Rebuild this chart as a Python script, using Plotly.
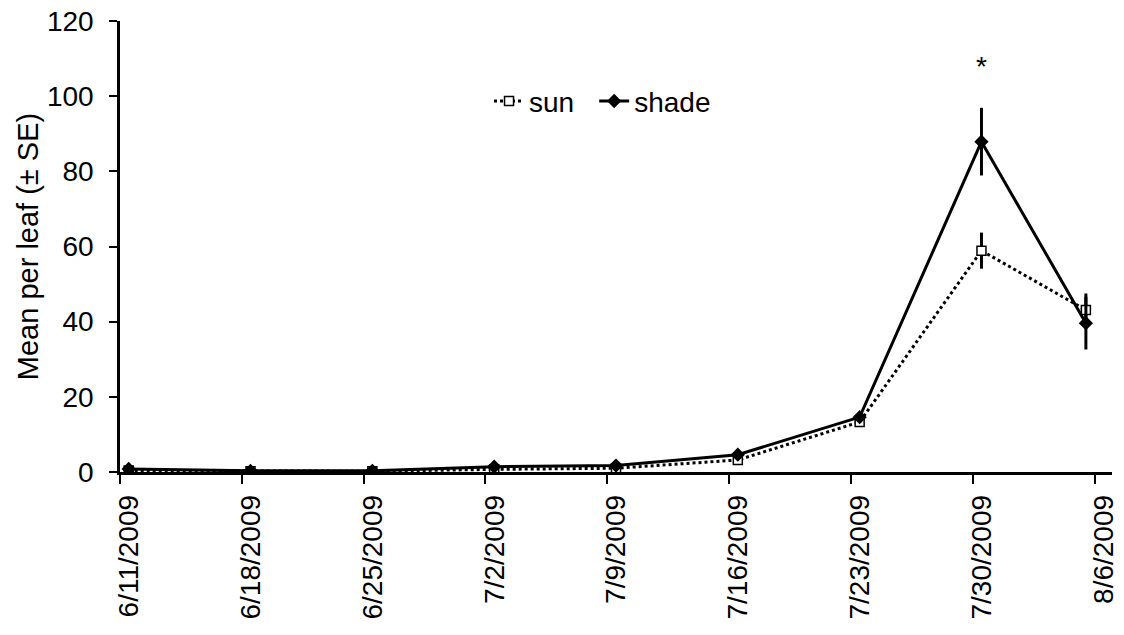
import plotly.graph_objects as go
import pandas as pd

dates = ["2009-06-11", "2009-06-18", "2009-06-25", "2009-07-02", "2009-07-09",
         "2009-07-16", "2009-07-23", "2009-07-30", "2009-08-05"]
sun_mean = [0.4, 0.2, 0.2, 0.7, 1.0, 3.2, 13.3, 58.9, 43.1]
sun_se = [0.2, 0.1, 0.1, 0.3, 0.3, 0.6, 1.3, 4.8, 4.4]
shade_mean = [0.8, 0.3, 0.3, 1.4, 1.7, 4.6, 14.6, 87.9, 39.6]
shade_se = [0.3, 0.1, 0.1, 0.4, 0.4, 0.8, 1.0, 9.0, 7.0]
tick_dates = ["2009-06-11", "2009-06-18", "2009-06-25", "2009-07-02", "2009-07-09",
              "2009-07-16", "2009-07-23", "2009-07-30", "2009-08-06"]
star_date = "2009-07-30"
star_value = 108

# Excel-style "between tick marks" date axis: points sit half a day after their date
x = pd.to_datetime(dates) + pd.Timedelta(hours=12)

FONT = "Liberation Sans, Arial, sans-serif"
fig = go.Figure()
fig.add_trace(go.Scatter(
    x=x, y=sun_mean, name="sun", mode="lines+markers", legend="legend",
    line=dict(color="black", width=3, dash="dot"),
    marker=dict(symbol="square", size=9, color="white", line=dict(color="black", width=1.5)),
    error_y=dict(type="data", array=sun_se, color="black", thickness=3, width=0),
))
fig.add_trace(go.Scatter(
    x=x, y=shade_mean, name="shade", mode="lines+markers", legend="legend2",
    line=dict(color="black", width=3),
    marker=dict(symbol="diamond", size=11, color="black"),
    error_y=dict(type="data", array=shade_se, color="black", thickness=3, width=0),
))
fig.add_annotation(x=pd.Timestamp(star_date) + pd.Timedelta(hours=12), y=star_value,
                   text="*", showarrow=False, font=dict(size=28, color="black", family=FONT))

leg = dict(orientation="h", y=0.822, xanchor="left", yanchor="middle",
           font=dict(size=28), bgcolor="rgba(0,0,0,0)", itemwidth=30)
fig.update_layout(
    width=1124, height=635,
    margin=dict(l=120, r=12, t=21, b=163),
    plot_bgcolor="white", paper_bgcolor="white",
    font=dict(family=FONT, size=28, color="black"),
    showlegend=True,
    legend=dict(leg, x=0.372),
    legend2=dict(leg, x=0.478),
)
fig.update_xaxes(
    type="date", range=["2009-06-11", "2009-08-07"],
    tickvals=tick_dates, tickformat="%-m/%-d/%Y", tickangle=-90,
    ticks="outside", ticklen=9, tickwidth=2, tickcolor="black",
    showline=True, linecolor="black", linewidth=2.5, showgrid=False, zeroline=False,
    ticklabelshift=9, tickfont=dict(size=28), automargin=False,
)
fig.update_yaxes(
    range=[0, 120], dtick=20, ticks="outside", ticklen=8, tickwidth=2, tickcolor="black",
    showline=True, linecolor="black", linewidth=2.5, showgrid=False, zeroline=False,
    tickfont=dict(size=28), ticklabelstandoff=10, automargin=False,
    title=dict(text="Mean per leaf (± SE)", font=dict(size=29), standoff=0),
)
fig.write_html("out.html")
